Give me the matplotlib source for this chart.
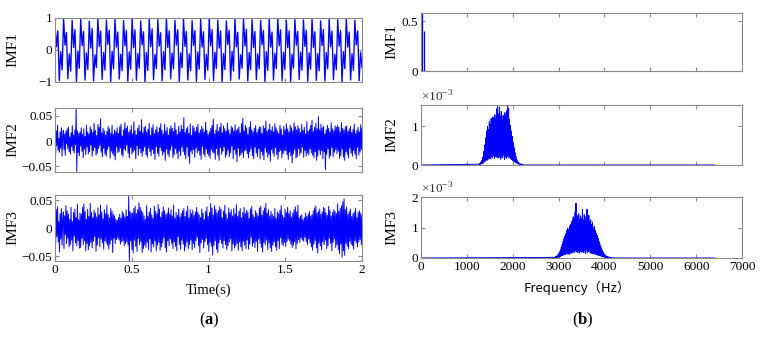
import numpy as np
import matplotlib
matplotlib.use('Agg')
import matplotlib.pyplot as plt

plt.rcParams['font.family'] = ['Liberation Serif', 'DejaVu Serif']
plt.rcParams['mathtext.fontset'] = 'custom'
plt.rcParams['mathtext.rm'] = 'Liberation Serif'
plt.rcParams['mathtext.bf'] = 'Liberation Serif:bold'

# ---- time domain, 0 .. 2 s
# IMF1 extrema, units of 0.01
imf1 = [80, 10, 60, -96, -5, -62, 99, 15, 55, -90, -12, -66, 93, 8, 64, -100, -3, -57,
        97, 14, 58, -94, -9, -61, 90, 6, 67, -97, -15, -55, 100, 11, 59, -92, -7, -63,
        94, 17, 62, -99, -4, -59, 96, 9, 56, -91, -13, -65, 92, 13, 61, -98, -6, -60,
        99, 7, 63, -95, -11, -57, 91, 16, 57, -100, -8, -64, 97, 10, 66, -93, -14, -58,
        95, 12, 54, -97, -5, -62, 100, 8, 60, -90, -10, -59, 93, 15, 63, -99, -9, -56,
        98, 11, 58, -94, -12, -65, 92, 14, 61, -98, -6, -60, 96, 9, 57, -92, -13, -63,
        100, 13, 64, -96, -7, -58, 94, 6, 59, -100, -11, -61, 91, 17, 62, -95, -4, -66,
        97, 10, 55, -91, -15, -57, 99, 12, 65, -97, -8, -62, 95, 8, 58, -93, -12, -59,
        93, 16, 61, -99, -5, -64, 98, 9, 56, -94, -10, -58, 100, 13, 63, -96, -7, -61,
        92, 7, 60, -100, -14, -57, 96, 15, 58, -92, -6, -63, 94, 11, 62, -98, -9, -60,
        99, 8, 57, -95, -11, -65, 91, 14, 64, -97, -8, -59, 97, 10, 59, -93, -13, -62,
        95, 12, 61, -99, -5, -58, 100, 9, 56, -94, -12, -64, 93, 16, 60, -96, -7, -55]

# IMF2, units of 1e-3 (20 samples = 1/12 s)
imf2 = [12, -25, 20, -9, 31, -18, 5, -22, 18, -14, 26, -30, 9, 21, -17, 14, -28, 19, -6, 24,
        -15, 27, -21, 8, -26, 16, -11, 30, -19, 12, -24, 22, -7, 65, -60, 20, -23, 15, -29, 18,
        -10, 26, -20, 13, -33, 24, -16, 9, -27, 31, -12, 18, -25, 14, -21, 28, -8, 23, -30, 17,
        -19, 35, -13, 21, -28, 11, -24, 33, -15, 27, -9, 44, -22, 16, -31, 25, -14, 20, -26, 12,
        -30, 19, -17, 29, -11, 24, -34, 15, -20, 31, -25, 13, -29, 22, -37, 18, -12, 26, -23, 15,
        -21, 28, -14, 33, -27, 10, -31, 22, -16, 36, -19, 25, -8, 29, -24, 17, -33, 21, -13, 30,
        -26, 14, -22, 38, -18, 20, -35, 12, -9, 25, -28, 31, -15, 19, -23, 42, -30, 16, -20, 27,
        -12, 29, -27, 18, -32, 23, -14, 35, -21, 11, -29, 26, -17, 32, -25, 15, -36, 22, -11, 28,
        -24, 17, -30, 26, -13, 34, -19, 21, -28, 14, -22, 33, -38, 20, -16, 27, -26, 12, -31, 24,
        -18, 30, -10, 25, -33, 19, -27, 36, -15, 22, -24, 13, -35, 29, -20, 18, -29, 31, -12, 23,
        -21, 46, -27, 17, -35, 24, -12, 28, -30, 15, -44, 34, -20, 11, -25, 30, -17, 26, -32, 19,
        -14, 27, -23, 33, -19, 16, -28, 22, -36, 29, -11, 24, -26, 18, -31, 37, -16, 21, -25, 13,
        -29, 18, -34, 25, -17, 31, -22, 43, -24, 14, -36, 21, -15, 33, -28, 19, -38, 27, -13, 35,
        -26, 16, -20, 30, -12, 24, -32, 19, -27, 35, -18, 22, -31, 14, -23, 29, -10, 26, -35, 20,
        -17, 32, -26, 21, -41, 24, -14, 28, -30, 16, -27, 34, -23, 45, -33, 20, -19, 31, -18, 26,
        -25, 13, -33, 27, -21, 38, -16, 22, -29, 18, -35, 25, -12, 30, -24, 17, -31, 23, -15, 28,
        -35, 27, -21, 15, -28, 30, -37, 25, -14, 39, -22, 19, -32, 23, -26, 33, -40, 21, -17, 28,
        -24, 18, -30, 34, -13, 26, -27, 20, -36, 15, -21, 31, -18, 24, -33, 12, -25, 29, -19, 22,
        -19, 34, -27, 24, -36, 18, -22, 31, -29, 26, -43, 20, -25, 36, -17, 28, -34, 22, -31, 30,
        -15, 25, -28, 17, -23, 33, -12, 21, -32, 27, -19, 14, -30, 38, -24, 19, -27, 23, -16, 31,
        -23, 41, -28, 19, -33, 27, -21, 35, -38, 24, -30, 48, -18, 22, -27, 33, -19, 26, -35, 29,
        -21, 14, -57, 22, -26, 31, -15, 25, -34, 18, -29, 36, -13, 24, -31, 20, -22, 30, -17, 27,
        -25, 31, -20, 27, -34, 18, -29, 36, -16, 25, -32, 22, -38, 28, -21, 30, -27, 19, -33, 24,
        -14, 29, -24, 17, -30, 23, -19, 33, -26, 15, -35, 21, -12, 27, -28, 18, -22, 32, -17, 25]

# IMF3, units of 1e-3 (20 samples = 1/12 s)
imf3 = [20, -28, 33, -15, 38, -24, 12, -42, 26, -19, 35, -30, 14, 29, -36, 22, -11, 40, -27, 31,
        -18, 25, -33, 16, -29, 37, -21, 12, -40, 28, -14, 34, -26, 19, -31, 43, -22, 15, -35, 27,
        -34, 25, -18, 37, -29, 43, -22, 30, -40, 16, -27, 34, -38, 21, -31, 44, -25, 28, -35, 19,
        -23, 32, -15, 27, -41, 20, -30, 36, -17, 24, -33, 41, -19, 29, -26, 17, -37, 33, -22, 26,
        -26, 41, -30, 24, -37, 19, -28, 35, -21, 30, -43, 25, -18, 22, -27, 16, -20, 14, -17, 19,
        -21, 25, -28, 18, -24, 30, -22, 26, -31, 20, -27, 33, -24, 21, -30, 58, -58, 30, -22, 27,
        -38, 27, -44, 35, -21, 39, -32, 26, -41, 33, -18, 45, -29, 37, -24, 31, -43, 28, -36, 22,
        -30, 16, -34, 40, -25, 21, -38, 29, -19, 35, -42, 24, -28, 18, -33, 39, -23, 30, -40, 26,
        -30, 42, -25, 34, -39, 20, -33, 29, -26, 38, -17, 31, -35, 24, -42, 27, -22, 36, -31, 25,
        -19, 33, -27, 22, -36, 41, -24, 18, -32, 28, -40, 23, -15, 34, -29, 20, -37, 26, -21, 31,
        -28, 35, -40, 21, -33, 30, -24, 39, -36, 18, -29, 33, -21, 26, -38, 32, -27, 23, -34, 29,
        -22, 37, -16, 28, -31, 24, -43, 19, -26, 34, -20, 27, -35, 16, -24, 30, -18, 38, -29, 21,
        -41, 28, -25, 44, -32, 36, -47, 24, -30, 40, -22, 33, -37, 27, -43, 31, -26, 38, -20, 34,
        -27, 19, -35, 30, -22, 41, -29, 25, -38, 17, -31, 36, -24, 28, -19, 33, -40, 22, -28, 35,
        -35, 25, -31, 42, -27, 21, -39, 30, -24, 35, -33, 19, -40, 28, -23, 37, -30, 26, -36, 32,
        -21, 29, -37, 18, -28, 34, -16, 39, -32, 24, -26, 20, -34, 31, -23, 27, -41, 22, -19, 36,
        -27, 39, -34, 23, -42, 31, -25, 36, -29, 44, -21, 27, -38, 33, -26, 22, -35, 30, -41, 25,
        -30, 21, -24, 35, -33, 18, -39, 29, -22, 26, -36, 32, -17, 40, -28, 23, -31, 19, -25, 34,
        -32, 28, -24, 37, -19, 26, -22, 31, -28, 20, -34, 27, -30, 33, -24, 38, -36, 29, -27, 41,
        -20, 18, -25, 22, -17, 24, -21, 15, -23, 19, -16, 27, -24, 21, -29, 25, -19, 30, -26, 22,
        -33, 24, -39, 31, -28, 36, -22, 40, -35, 27, -44, 30, -26, 34, -31, 25, -38, 29, -24, 37,
        -29, 35, -21, 27, -36, 23, -31, 39, -18, 32, -27, 22, -40, 28, -25, 33, -19, 30, -34, 26,
        -29, 43, -38, 30, -45, 35, -28, 40, -51, 47, -40, 52, -48, 33, -27, 38, -32, 25, -36, 30,
        -23, 34, -28, 21, -31, 26, -37, 29, -22, 35, -26, 19, -33, 28, -24, 31, -20, 27, -29, 23]

t_end = 2.0

# ---- spectra
f_max = 6400          # last frequency bin
spec_step = 10        # Hz between bins inside the bands

# IMF1: two spikes
imf1_spec_f = [15, 75]
imf1_spec_a = [0.58, 0.40]

# IMF2 band from 1250 Hz, units of 1e-5
imf2_spec_f0 = 1250
imf2_spec = [2, 0, 3, 1, 5, 2, 8, 3, 12, 4,
             20, 5, 35, 8, 52, 10, 70, 14, 88, 12,
             100, 18, 92, 15, 112, 20, 105, 16, 120, 22,
             108, 19, 124, 25, 116, 17, 130, 23, 121, 20,
             145, 24, 155, 18, 132, 27, 150, 20, 126, 15,
             138, 23, 115, 19, 128, 26, 120, 14, 135, 22,
             124, 17, 140, 25, 155, 20, 146, 23, 118, 18,
             102, 16, 88, 14, 74, 12, 58, 10, 45, 8,
             32, 6, 22, 5, 14, 4, 9, 3, 6, 2,
             4, 1, 3, 1, 2, 1, 2, 0, 1, 0]

# IMF3 band from 2900 Hz, units of 1e-5
imf3_spec_f0 = 2900
imf3_spec = [2, 0, 3, 1, 5, 1, 7, 2, 10, 3,
             14, 3, 20, 5, 28, 6, 36, 8, 45, 9,
             55, 10, 64, 12, 72, 11, 80, 14, 90, 13,
             98, 16, 92, 12, 105, 18, 110, 15, 118, 20,
             124, 17, 135, 22, 128, 19, 150, 24, 180, 21,
             140, 18, 132, 25, 145, 16, 126, 23, 138, 20,
             130, 19, 160, 22, 124, 17, 142, 26, 120, 15,
             136, 24, 160, 18, 128, 21, 140, 25, 118, 16,
             125, 20, 110, 14, 118, 19, 98, 13, 104, 17,
             90, 12, 82, 11, 74, 10, 65, 9, 55, 8,
             46, 7, 38, 6, 30, 5, 24, 4, 18, 3,
             13, 3, 10, 2, 7, 2, 5, 1, 4, 1,
             3, 1, 2, 1, 2, 0, 1, 0, 1, 0]

W, H = 763, 341
fig = plt.figure(figsize=(W / 100, H / 100), dpi=100)


def box(l, t, r, b):
    # pixel box -> figure fraction
    return [l / W, 1 - b / H, (r - l) / W, (b - t) / H]


def style(ax):
    for s in ax.spines.values():
        s.set_color('#8a8a8a')
        s.set_linewidth(0.8)
    ax.tick_params(direction='in', top=True, right=True, length=3,
                   color='#8a8a8a', labelsize=9.5, pad=2)


blue = '#0000ff'

# ---------- (a) time series
ax_t = [fig.add_axes(box(55, 18, 362, 82)),
        fig.add_axes(box(55, 108, 362, 172)),
        fig.add_axes(box(55, 195, 362, 261))]

series = [np.array(imf1) * 0.01, np.array(imf2) * 1e-3, np.array(imf3) * 1e-3]
ylims = [(-1, 1), (-0.061, 0.065), (-0.058, 0.059)]
widths = [0.95, 0.7, 0.7]
for i, ax in enumerate(ax_t):
    y = series[i]
    t = np.linspace(0, t_end, len(y))
    ax.plot(t, y, color=blue, lw=widths[i])
    ax.set_xlim(0, t_end)
    ax.set_ylim(*ylims[i])
    style(ax)
    ax.set_xticks([0, 0.5, 1, 1.5, 2])
    if i == 2:
        ax.set_xticklabels(['0', '0.5', '1', '1.5', '2'])
    else:
        ax.set_xticklabels([])
    if i == 0:
        ax.set_yticks([-1, 0, 1])
        ax.set_yticklabels(['\u22121', '0', '1'])
    else:
        ax.set_yticks([-0.05, 0, 0.05])
        ax.set_yticklabels(['\u22120.05', '0', '0.05'])
    ax.set_ylabel('IMF%d' % (i + 1), fontsize=11)
    ax.yaxis.set_label_coords(-0.115, 0.5)

fig.text(209 / W, 1 - 290 / H, 'Time(s)', ha='center', va='center', fontsize=10.5)

# ---------- (b) spectra
ax_f = [fig.add_axes(box(421, 13, 742, 71)),
        fig.add_axes(box(421, 105, 742, 165)),
        fig.add_axes(box(421, 197, 742, 258))]

# IMF1 spectrum: baseline + spikes
ax = ax_f[0]
ax.plot([0, f_max], [0, 0], color=blue, lw=0.8, alpha=0.6)
ax.vlines(imf1_spec_f, 0, imf1_spec_a, color=blue, lw=0.9)
ax.set_ylim(0, 0.58)
ax.set_yticks([0, 0.5])
ax.set_yticklabels(['0', '0.5'])

bands = [(imf2_spec_f0, imf2_spec, 1.55), (imf3_spec_f0, imf3_spec, 2.0)]
for k, (f0, vals, top) in enumerate(bands):
    ax = ax_f[k + 1]
    v = np.array(vals) * 0.01          # in units of 1e-3
    f = f0 + spec_step * np.arange(len(v))
    ff = np.concatenate([[0], f, [f_max]])
    vv = np.concatenate([[0], v, [0]])
    ax.plot([0, f_max], [0, 0], color=blue, lw=0.8, alpha=0.6)
    ax.plot(ff, vv, color=blue, lw=0.7)
    ax.set_ylim(0, top)
    if top > 1.9:
        ax.set_yticks([0, 1, 2])
        ax.set_yticklabels(['0', '1', '2'])
    else:
        ax.set_yticks([0, 1])
        ax.set_yticklabels(['0', '1'])
    ax.text(0.0, 1.0, r'$\times 10^{-3}$', transform=ax.transAxes,
            ha='left', va='bottom', fontsize=9.5, color='#333333')

for i, ax in enumerate(ax_f):
    ax.set_xlim(0, 7000)
    style(ax)
    ax.set_xticks(np.arange(0, 7001, 1000))
    if i == 2:
        ax.set_xticklabels([str(v) for v in range(0, 7001, 1000)])
    else:
        ax.set_xticklabels([])
    ax.set_ylabel('IMF%d' % (i + 1), fontsize=11)
    ax.yaxis.set_label_coords(-0.07, 0.5)

fig.text(577 / W, 1 - 288 / H, 'Frequency（Hz）', ha='center', va='center', fontsize=9.5,
         family=['Noto Sans CJK SC', 'DejaVu Sans'])

fig.text(209 / W, 1 - 320 / H, r'($\mathbf{a}$)', ha='center', va='center', fontsize=12)
fig.text(583 / W, 1 - 320 / H, r'($\mathbf{b}$)', ha='center', va='center', fontsize=12)

fig.savefig('out.png', dpi=100)
